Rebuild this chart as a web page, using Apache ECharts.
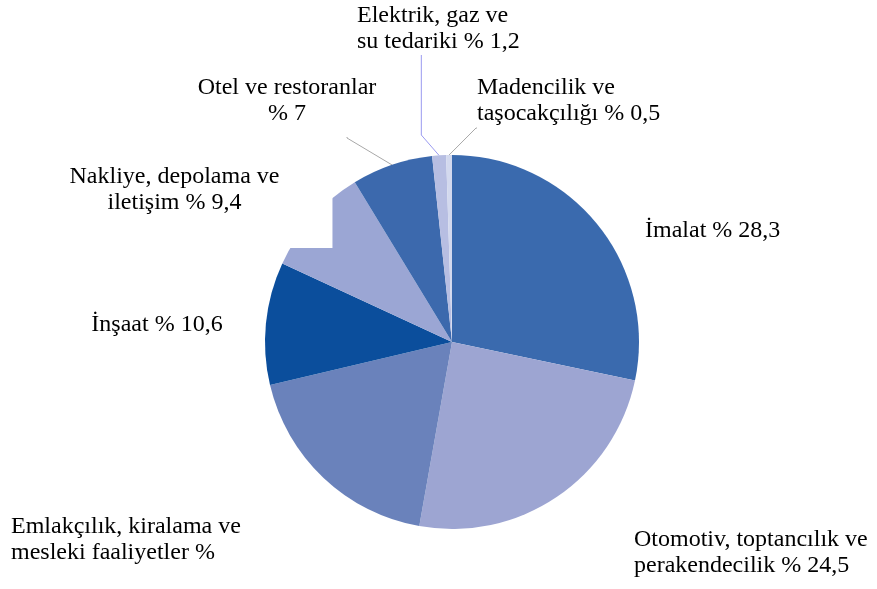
<!DOCTYPE html>
<html>
<head>
<meta charset="utf-8">
<script src="https://cdn.jsdelivr.net/npm/echarts@6/dist/echarts.min.js"></script>
<style>
  html, body { margin: 0; padding: 0; background: #fff; }
  #chart { width: 877px; height: 589px; }
</style>
</head>
<body>
<div id="chart"></div>
<script>
// sektör payları (%), saat yönünde tepeden başlayarak
const sectors = ['İmalat', 'Otomotiv, toptancılık ve perakendecilik', 'Emlakçılık, kiralama ve mesleki faaliyetler',
  'İnşaat', 'Nakliye, depolama ve iletişim', 'Otel ve restoranlar', 'Elektrik, gaz ve su tedariki', 'Madencilik ve taşocakçılığı'];
const shares = [28.3, 24.5, 18.5, 10.6, 9.4, 7, 1.2, 0.5];
const labelTexts = ['İmalat % 28,3', 'Otomotiv, toptancılık ve\nperakendecilik % 24,5', 'Emlakçılık, kiralama ve\nmesleki faaliyetler %',
  'İnşaat % 10,6', 'Nakliye, depolama ve\niletişim % 9,4', 'Otel ve restoranlar\n% 7', 'Elektrik, gaz ve\nsu tedariki % 1,2',
  'Madencilik ve\ntaşocakçılığı % 0,5'];
const colors = ['#3A6AAE', '#9DA5D2', '#6A82BB', '#0B4E9C', '#9BA6D4', '#3C69AD', '#B7BEE2', '#D3D9EE'];

// etiket yerleşimi (x, y, hizalama) ve kutu dolguları
const labelPos = [
  {x: 645, y: 218, align: 'left'},
  {x: 634, y: 527, align: 'left'},
  {x: 11, y: 514, align: 'left'},
  {x: 157, y: 312, align: 'center'},
  {x: 201, y: 164, align: 'center'},
  {x: 347, y: 75, align: 'center'},
  {x: 323, y: 3, align: 'left'},
  {x: 477, y: 75, align: 'left'}
];
const labelPadding = [0, 0, 0, 0, [0, 53, 32, 0], [0, 120, 10, 0], [0, 0, 0, 34], [0, 0, 54, 0]];
const withLine = [5, 6, 7];

const chart = echarts.init(document.getElementById('chart'));

const seriesData = shares.map(function (v, i) {
  const item = {
    name: sectors[i],
    value: v,
    itemStyle: {color: colors[i]},
    label: {formatter: labelTexts[i], padding: labelPadding[i]},
    labelLine: {show: withLine.indexOf(i) >= 0}
  };
  if (i === 4) {
    // Nakliye etiketinin beyaz kutusu dilimin bir kısmını örtüyor
    item.label.backgroundColor = '#fff';
  }
  if (i === 5) {
    item.labelLine.length2 = 1;
  }
  if (i === 6) {
    item.labelLine.length2 = 80;
    item.labelLine.lineStyle = {color: '#9a9af0'};
  }
  if (i === 7) {
    item.labelLine.length2 = 1;
  }
  return item;
});

const option = {
  animation: false,
  series: [{
    type: 'pie',
    center: [452, 342],
    radius: 187,
    startAngle: 90,
    clockwise: true,
    avoidLabelOverlap: false,
    emphasis: {disabled: true},
    itemStyle: {borderWidth: 0},
    label: {
      show: true,
      position: 'outside',
      color: '#000',
      fontFamily: 'Liberation Serif',
      fontSize: 24,
      lineHeight: 26
    },
    labelLine: {
      length: 10,
      length2: 10,
      lineStyle: {color: '#a8a8a8', width: 1}
    },
    labelLayout: function (params) {
      const p = labelPos[params.dataIndex];
      return {x: p.x, y: p.y, align: p.align, verticalAlign: 'top'};
    },
    data: seriesData
  }]
};

chart.setOption(option);
window.onresize = function () {
  chart.resize();
};
</script>
</body>
</html>
